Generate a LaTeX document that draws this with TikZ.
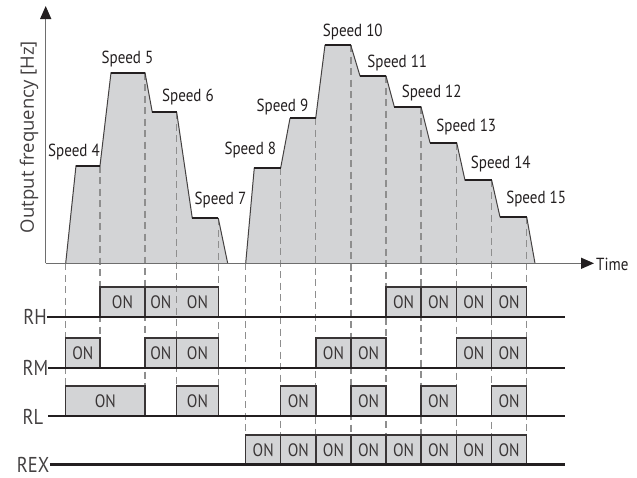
\documentclass[tikz,border=0pt]{standalone}
\usepackage{fontspec}
\newfontfamily\lblfont[FakeStretch=0.86]{PT Sans}
\newfontfamily\axfont{Open Sans}
\usetikzlibrary{arrows.meta}
\definecolor{fillgray}{HTML}{D3D4D6}
\definecolor{inkdark}{HTML}{231F20}
\definecolor{dashgray}{HTML}{8E8E8E}
\definecolor{axisgray}{HTML}{6E6E6E}

\tikzset{
  waveline/.style={draw=inkdark!85, line width=1pt, line join=round},
  flatline/.style={draw=inkdark, line width=2pt},
  axisline/.style={draw=axisgray, line width=1.4pt},
  guide/.style={draw=dashgray, line width=1.1pt, dash pattern=on 7pt off 4.5pt},
  boxline/.style={draw=inkdark!90, line width=1.5pt},
  rowline/.style={draw=inkdark, line width=2.4pt},
  speedlbl/.style={text=inkdark, font=\lblfont\fontsize{17.5}{20}\selectfont, inner sep=0pt},
  rowlbl/.style={text=inkdark!85, font=\lblfont\fontsize{21.5}{25}\selectfont, inner sep=0pt, anchor=east},
  ontext/.style={text=inkdark!90, font=\lblfont\fontsize{18}{20}\selectfont, inner sep=0pt},
  tip/.style={-{Triangle[length=13pt,width=11pt,color=inkdark]}}
}

\begin{document}
\begin{tikzpicture}[x=1pt,y=-1pt]
\useasboundingbox (0,0) rectangle (637,477);

% ---- frequency profiles ----
\fill[fillgray] (65.7,263.3) -- (76,165.7) -- (100,165.7) -- (111,72.7) -- (145,72.7)
  -- (152.3,112.3) -- (176.7,112.3) -- (192.3,218.3) -- (218.3,218.3) -- (227.7,263.3) -- cycle;
\fill[fillgray] (245.7,263.3) -- (254.3,167.7) -- (280.7,167.7) -- (290,118.3) -- (315.7,118.3)
  -- (325,45) -- (350.7,45) -- (360,76) -- (386,76) -- (394.3,106.7) -- (421,106.7)
  -- (430,142.7) -- (456.7,142.7) -- (465,180.3) -- (491.7,180.3) -- (500,217)
  -- (526.7,217) -- (535,263.3) -- cycle;

% ---- boxes (fill) ----
\foreach \a/\b/\y in {100/218.3/316.7, 386/526.7/316.7,
                      65.7/100/367.7, 145/218.3/367.7, 315.9/386/367.7, 456.3/526.7/367.7,
                      65.7/145/415.7, 176.7/218.3/415.7, 280.7/315.9/415.7, 351/386/415.7,
                      421/456.3/415.7, 491.5/526.7/415.7,
                      245.7/526.7/464.3}
  \fill[fillgray] (\a,\y) rectangle (\b,\y-29.5);

% ---- dashed time guides ----
\foreach \x/\ya/\yb in {65.7/263.3/415.7, 100/165.7/367.7, 145/72.7/415.7,
                         176.7/112.3/415.7, 218.3/218.3/415.7}
  \draw[guide] (\x,\ya) -- (\x,\yb);
\foreach \x/\ya in {245.7/263.3, 280.7/167.7, 315.9/118.3, 351/45, 386/76,
                    421/106.7, 456.3/142.7, 491.5/180.3, 526.7/217}
  \draw[guide] (\x,\ya) -- (\x,464.3);

% ---- profile outlines ----
\draw[waveline] (65.7,263.3) -- (76,165.7) -- (100,165.7) -- (111,72.7) -- (145,72.7)
  -- (152.3,112.3) -- (176.7,112.3) -- (192.3,218.3) -- (218.3,218.3) -- (227.7,263.3);
\draw[waveline] (245.7,263.3) -- (254.3,167.7) -- (280.7,167.7) -- (290,118.3) -- (315.7,118.3)
  -- (325,45) -- (350.7,45) -- (360,76) -- (386,76) -- (394.3,106.7) -- (421,106.7)
  -- (430,142.7) -- (456.7,142.7) -- (465,180.3) -- (491.7,180.3) -- (500,217)
  -- (526.7,217) -- (535,263.3);
\foreach \a/\b/\y in {76/100/165.7, 111/145/72.7, 152.3/176.7/112.3, 192.3/218.3/218.3,
                      254.3/280.7/167.7, 290/315.7/118.3, 325/350.7/45, 360/386/76,
                      394.3/421/106.7, 430/456.7/142.7, 465/491.7/180.3, 500/526.7/217}
  \draw[flatline] (\a,\y) -- (\b,\y);

% ---- axes ----
\coordinate (origin) at (45.7,263.3);
\coordinate (ytop) at (45.7,6);
\coordinate (xend) at (594,263.3);
\draw[axisline, tip] (origin) -- (ytop);
\draw[axisline, tip] (origin) -- (xend);
\node[text=inkdark, font=\lblfont\fontsize{17.5}{20}\selectfont, inner sep=0pt, anchor=west]
  (timelbl) at (596,264) {Time};
\node[text=inkdark!85, font=\axfont\fontsize{18.5}{21}\selectfont, inner sep=0pt, rotate=90]
  (freqlbl) at (29,137) {Output frequency [Hz]};

% ---- speed labels ----
\node[speedlbl] (s4)  at (74,152)    {Speed 4};
\node[speedlbl] (s5)  at (127.5,59)  {Speed 5};
\node[speedlbl] (s6)  at (188,97)    {Speed 6};
\node[speedlbl] (s7)  at (220.5,200) {Speed 7};
\node[speedlbl] (s8)  at (250.3,150) {Speed 8};
\node[speedlbl] (s9)  at (282.5,106.7) {Speed 9};
\node[speedlbl] (s10) at (352.8,32.3) {Speed 10};
\node[speedlbl] (s11) at (397.3,63.3) {Speed 11};
\node[speedlbl] (s12) at (431.7,93.3) {Speed 12};
\node[speedlbl] (s13) at (466.3,126.7) {Speed 13};
\node[speedlbl] (s14) at (500.8,164)  {Speed 14};
\node[speedlbl] (s15) at (536.2,199.3) {Speed 15};

% ---- box outlines and dividers ----
\foreach \a/\b/\y in {100/218.3/316.7, 386/526.7/316.7,
                      65.7/100/367.7, 145/218.3/367.7, 315.9/386/367.7, 456.3/526.7/367.7,
                      65.7/145/415.7, 176.7/218.3/415.7, 280.7/315.9/415.7, 351/386/415.7,
                      421/456.3/415.7, 491.5/526.7/415.7,
                      245.7/526.7/464.3}
  \draw[boxline] (\a,\y) -- (\a,\y-29.5) -- (\b,\y-29.5) -- (\b,\y);
\foreach \x/\y in {145/316.7, 421/316.7, 456.3/316.7, 491.5/316.7,
                   176.7/367.7, 351/367.7, 491.5/367.7,
                   280.7/464.3, 315.9/464.3, 351/464.3, 386/464.3, 421/464.3,
                   456.3/464.3, 491.5/464.3}
  \draw[boxline] (\x,\y) -- (\x,\y-29.5);

% ---- signal rows ----
\node[rowlbl] (rh)  at (47,317)  {RH};
\node[rowlbl] (rm)  at (48.5,368) {RM};
\node[rowlbl] (rl)  at (43.5,416.5)  {RL};
\node[rowlbl] (rex) at (49.5,464.5)  {REX};
\coordinate (rhend)  at (565,316.7);
\coordinate (rmend)  at (565,367.7);
\coordinate (rlend)  at (565,415.7);
\coordinate (rexend) at (565,464.3);
\draw[rowline] (rh.east |- rhend) -- (rhend);
\draw[rowline] (48,367.7) -- (rmend);
\draw[rowline] (48,415.7) -- (rlend);
\draw[rowline] (rex.east |- rexend) -- (rexend);

% ---- ON labels ----
\foreach \a/\b/\y in {100/145/316.7, 145/176.7/316.7, 176.7/218.3/316.7,
                      386/421/316.7, 421/456.3/316.7, 456.3/491.5/316.7, 491.5/526.7/316.7,
                      65.7/100/367.7, 145/176.7/367.7, 176.7/218.3/367.7,
                      315.9/351/367.7, 351/386/367.7, 456.3/491.5/367.7, 491.5/526.7/367.7,
                      65.7/145/415.7, 176.7/218.3/415.7, 280.7/315.9/415.7, 351/386/415.7,
                      421/456.3/415.7, 491.5/526.7/415.7,
                      245.7/280.7/464.3, 280.7/315.9/464.3, 315.9/351/464.3, 351/386/464.3,
                      386/421/464.3, 421/456.3/464.3, 456.3/491.5/464.3, 491.5/526.7/464.3}
  \node[ontext] at ({(\a+\b)/2},\y-14.5) {ON};
\end{tikzpicture}
\end{document}
